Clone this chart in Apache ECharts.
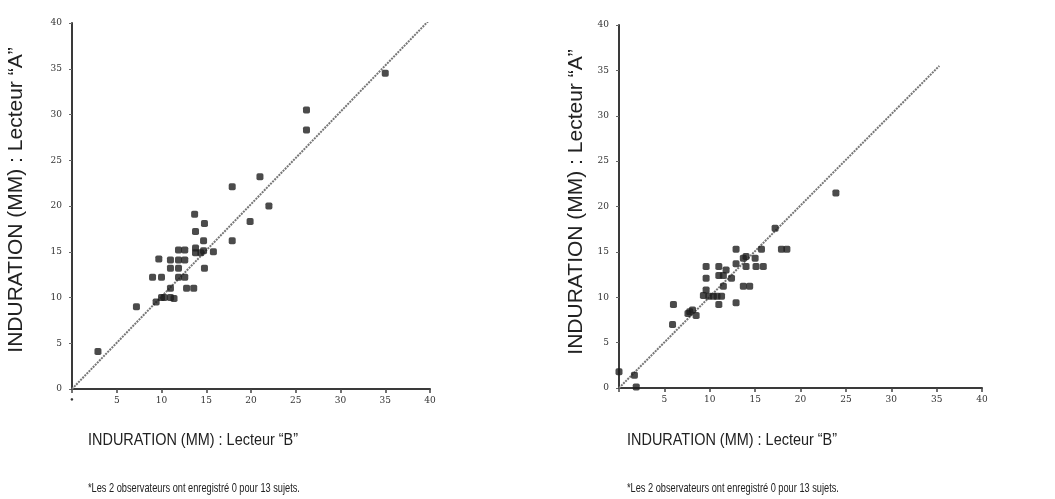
<!DOCTYPE html>
<html>
<head>
<meta charset="utf-8">
<script src="https://cdn.jsdelivr.net/npm/echarts@6/dist/echarts.min.js"></script>
<style>
  html, body { margin: 0; padding: 0; background: #fff; }
  #chart { width: 1055px; height: 499px; }
</style>
</head>
<body>
<div id="chart"></div>
<script>
// Axis ticks (mm)
const tickValues = [0, 5, 10, 15, 20, 25, 30, 35, 40];

// Left panel: Lecteur "B" (x) vs Lecteur "A" (y)
const leftB = [2.9, 7.2, 9.0, 10.0, 9.7, 9.4, 10.0, 10.3, 11.0, 11.4, 11.0, 11.0, 11.0,
  11.9, 11.9, 11.9, 12.6, 12.6, 11.9, 12.6, 12.8, 13.6, 13.7, 13.8, 13.8, 13.8, 14.4,
  14.8, 14.7, 14.7, 14.8, 15.8, 17.9, 17.9, 19.9, 21.0, 22.0, 26.2, 26.2, 35.0];
const leftA = [4.1, 9.0, 12.2, 12.2, 14.2, 9.5, 10.0, 10.0, 10.0, 9.9, 11.0, 13.2, 14.1,
  13.2, 14.1, 15.2, 15.2, 14.1, 12.2, 12.2, 11.0, 11.0, 19.1, 17.2, 15.4, 14.9, 14.9,
  18.1, 16.2, 15.1, 13.2, 15.0, 22.1, 16.2, 18.3, 23.2, 20.0, 30.5, 28.3, 34.5];
const leftLineB = [0, 40];
const leftLineA = [0, 40.4];

// Right panel
const rightB = [0.0, 1.7, 1.9, 6.0, 5.9, 7.6, 7.8, 8.1, 8.5, 9.6, 9.6, 9.6, 9.3, 9.9,
  10.4, 10.8, 11.3, 11.0, 11.0, 11.0, 11.5, 11.8, 12.4, 11.5, 12.9, 12.9, 12.9, 13.7,
  14.0, 15.0, 14.0, 15.1, 15.9, 13.7, 14.4, 15.7, 17.2, 17.9, 18.5, 23.9];
const rightA = [1.8, 1.4, 0.1, 9.2, 7.0, 8.2, 8.4, 8.6, 8.0, 13.4, 12.1, 10.8, 10.2, 10.1,
  10.1, 10.1, 10.1, 9.2, 13.4, 12.4, 12.4, 13.0, 12.1, 11.2, 15.3, 13.7, 9.4, 14.3,
  14.5, 14.3, 13.4, 13.4, 13.4, 11.2, 11.2, 15.3, 17.6, 15.3, 15.3, 21.5];
const rightLineB = [0, 35.3];
const rightLineA = [0, 35.5];

const titleX = 'INDURATION (MM) : Lecteur \u201cB\u201d';
const titleY = 'INDURATION (MM) : Lecteur \u201cA\u201d';
const footnote = '*Les 2 observateurs ont enregistré 0 pour 13 sujets.';

const zip = (xs, ys) => xs.map((x, i) => [x, ys[i]]);

const chart = echarts.init(document.getElementById('chart'));

const axisLine = { lineStyle: { color: '#3a3a3a', width: 2 } };
const tickLabel = { fontFamily: 'DejaVu Serif', fontSize: 9, color: '#333' };

function xAxis(gridIndex, zeroLabel) {
  return {
    type: 'value', gridIndex: gridIndex, min: 0, max: 40, interval: 5,
    axisLine: axisLine,
    axisTick: { show: true, length: 4, lineStyle: { color: '#444', width: 1.5 } },
    axisLabel: Object.assign({ margin: 7, formatter: v => v === 0 ? zeroLabel : String(v) }, tickLabel),
    splitLine: { show: false }
  };
}
function yAxis(gridIndex) {
  return {
    type: 'value', gridIndex: gridIndex, min: 0, max: 40, interval: 5,
    axisLine: axisLine,
    axisTick: { show: true, length: 3, lineStyle: { color: '#666', width: 1 } },
    axisLabel: Object.assign({ margin: 10 }, tickLabel),
    splitLine: { show: false }
  };
}

const dotStyle = { color: '#1e1e1e' };
const diagStyle = { color: '#777', width: 2, type: [2, 1] };

// condensed text, like the scanned figure
const xTitleStyle = { text: titleX, font: '17px "Liberation Sans"', fill: '#222', verticalAlign: 'middle' };
const noteStyle = { text: footnote, font: '13px "Liberation Sans"', fill: '#222', verticalAlign: 'middle' };
const yTitleStyle = { text: titleY, font: '21px "Liberation Sans"', fill: '#222', align: 'center', verticalAlign: 'middle' };

chart.setOption({
  animation: false,
  grid: [
    { left: 72, top: 23, width: 358, height: 366 },
    { left: 619, top: 25, width: 363, height: 363 }
  ],
  xAxis: [xAxis(0, '\u2022'), xAxis(1, '')],
  yAxis: [yAxis(0), yAxis(1)],
  series: [
    {
      type: 'line', xAxisIndex: 0, yAxisIndex: 0, data: zip(leftLineB, leftLineA),
      symbol: 'none', lineStyle: diagStyle, z: 1
    },
    {
      type: 'scatter', xAxisIndex: 0, yAxisIndex: 0, data: zip(leftB, leftA),
      symbol: 'roundRect', symbolSize: 7, itemStyle: dotStyle, z: 2
    },
    {
      type: 'line', xAxisIndex: 1, yAxisIndex: 1, data: zip(rightLineB, rightLineA),
      symbol: 'none', lineStyle: diagStyle, z: 1
    },
    {
      type: 'scatter', xAxisIndex: 1, yAxisIndex: 1, data: zip(rightB, rightA),
      symbol: 'roundRect', symbolSize: 7, itemStyle: dotStyle, z: 2
    }
  ],
  graphic: [
    { type: 'text', x: 16, y: 200, rotation: Math.PI / 2, style: yTitleStyle },
    { type: 'text', x: 576, y: 202, rotation: Math.PI / 2, style: yTitleStyle },
    { type: 'text', x: 88, y: 440, scaleX: 0.85, style: xTitleStyle },
    { type: 'text', x: 627, y: 440, scaleX: 0.85, style: xTitleStyle },
    { type: 'text', x: 88, y: 488, scaleX: 0.71, style: noteStyle },
    { type: 'text', x: 627, y: 488, scaleX: 0.71, style: noteStyle }
  ]
});
</script>
</body>
</html>
